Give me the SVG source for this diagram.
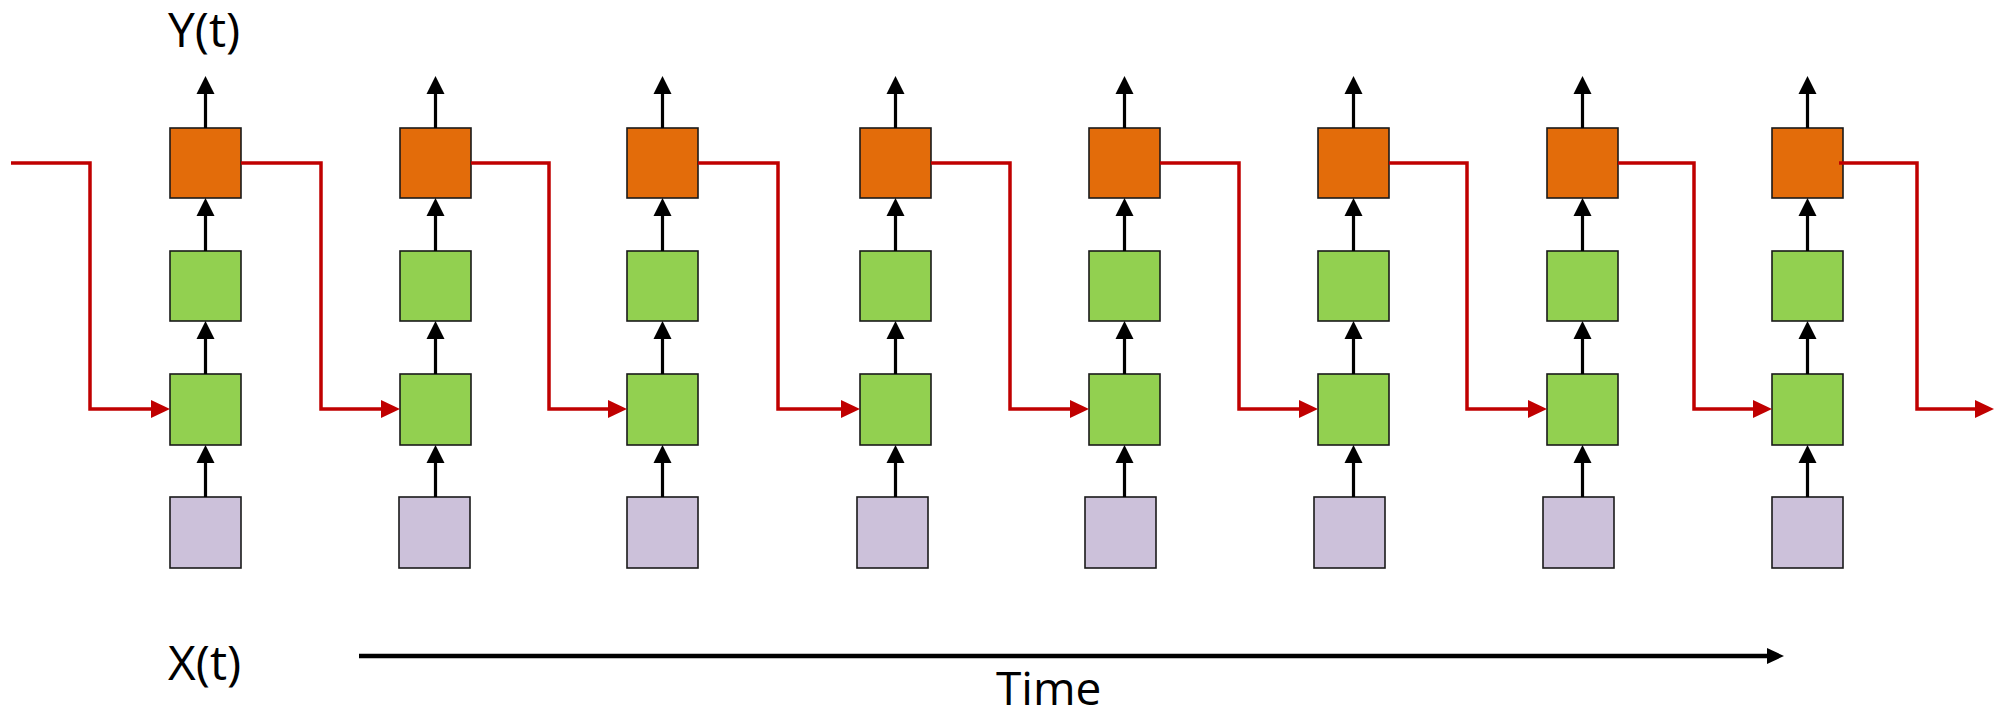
<svg xmlns="http://www.w3.org/2000/svg" width="2005" height="719" viewBox="0 0 2005 719">
<style>
.box{stroke:#1a1a1a;stroke-width:1.6}
.out{fill:#E36C0A}
.hid{fill:#92D050}
.inp{fill:#CCC1DA}
.rec{fill:none;stroke:#C00000;stroke-width:3.5;marker-end:url(#ra)}
.up{fill:none;stroke:#000;stroke-width:3.2;marker-end:url(#ba)}
.lbl{font-family:"Open Sans","Noto Sans",sans-serif;font-size:48px;fill:#000}
</style>
<defs>
<marker id="ra" markerUnits="userSpaceOnUse" markerWidth="19" markerHeight="19" refX="0" refY="9" orient="auto" overflow="visible"><path d="M0,0 L19,9 L0,18 z" fill="#C00000"/></marker>
<marker id="ba" markerUnits="userSpaceOnUse" markerWidth="19" markerHeight="19" refX="0" refY="9" orient="auto" overflow="visible"><path d="M0,0 L18,9 L0,18 z" fill="#000"/></marker>
<marker id="ta" markerUnits="userSpaceOnUse" markerWidth="17" markerHeight="16" refX="0" refY="8" orient="auto" overflow="visible"><path d="M0,0 L17,8 L0,16 z" fill="#000"/></marker>
</defs>
<rect width="2005" height="719" fill="#fff"/>
<g id="col1"><rect class="box out" x="170" y="128" width="71" height="70"/><rect class="box hid" x="170" y="251" width="71" height="70"/><rect class="box hid" x="170" y="374" width="71" height="71"/><rect class="box inp" x="170" y="497" width="71" height="71"/></g>
<g id="col2"><rect class="box out" x="400" y="128" width="71" height="70"/><rect class="box hid" x="400" y="251" width="71" height="70"/><rect class="box hid" x="400" y="374" width="71" height="71"/><rect class="box inp" x="399" y="497" width="71" height="71"/></g>
<g id="col3"><rect class="box out" x="627" y="128" width="71" height="70"/><rect class="box hid" x="627" y="251" width="71" height="70"/><rect class="box hid" x="627" y="374" width="71" height="71"/><rect class="box inp" x="627" y="497" width="71" height="71"/></g>
<g id="col4"><rect class="box out" x="860" y="128" width="71" height="70"/><rect class="box hid" x="860" y="251" width="71" height="70"/><rect class="box hid" x="860" y="374" width="71" height="71"/><rect class="box inp" x="857" y="497" width="71" height="71"/></g>
<g id="col5"><rect class="box out" x="1089" y="128" width="71" height="70"/><rect class="box hid" x="1089" y="251" width="71" height="70"/><rect class="box hid" x="1089" y="374" width="71" height="71"/><rect class="box inp" x="1085" y="497" width="71" height="71"/></g>
<g id="col6"><rect class="box out" x="1318" y="128" width="71" height="70"/><rect class="box hid" x="1318" y="251" width="71" height="70"/><rect class="box hid" x="1318" y="374" width="71" height="71"/><rect class="box inp" x="1314" y="497" width="71" height="71"/></g>
<g id="col7"><rect class="box out" x="1547" y="128" width="71" height="70"/><rect class="box hid" x="1547" y="251" width="71" height="70"/><rect class="box hid" x="1547" y="374" width="71" height="71"/><rect class="box inp" x="1543" y="497" width="71" height="71"/></g>
<g id="col8"><rect class="box out" x="1772" y="128" width="71" height="70"/><rect class="box hid" x="1772" y="251" width="71" height="70"/><rect class="box hid" x="1772" y="374" width="71" height="71"/><rect class="box inp" x="1772" y="497" width="71" height="71"/></g>
<g id="connectors">
<path class="rec" d="M11,163 H90 V409 H151"/>
<path class="rec" d="M241,163 H321 V409 H381"/>
<path class="rec" d="M471,163 H549 V409 H608"/>
<path class="rec" d="M698,163 H778 V409 H841"/>
<path class="rec" d="M931,163 H1010 V409 H1070"/>
<path class="rec" d="M1160,163 H1239 V409 H1299"/>
<path class="rec" d="M1389,163 H1467 V409 H1528"/>
<path class="rec" d="M1618,163 H1694 V409 H1753"/>
<path class="rec" d="M1839,163 H1917 V409 H1975"/>
<path class="up" d="M205.5,497 V463"/><path class="up" d="M205.5,374 V339"/><path class="up" d="M205.5,251 V216"/><path class="up" d="M205.5,128 V94"/>
<path class="up" d="M435.5,497 V463"/><path class="up" d="M435.5,374 V339"/><path class="up" d="M435.5,251 V216"/><path class="up" d="M435.5,128 V94"/>
<path class="up" d="M662.5,497 V463"/><path class="up" d="M662.5,374 V339"/><path class="up" d="M662.5,251 V216"/><path class="up" d="M662.5,128 V94"/>
<path class="up" d="M895.5,497 V463"/><path class="up" d="M895.5,374 V339"/><path class="up" d="M895.5,251 V216"/><path class="up" d="M895.5,128 V94"/>
<path class="up" d="M1124.5,497 V463"/><path class="up" d="M1124.5,374 V339"/><path class="up" d="M1124.5,251 V216"/><path class="up" d="M1124.5,128 V94"/>
<path class="up" d="M1353.5,497 V463"/><path class="up" d="M1353.5,374 V339"/><path class="up" d="M1353.5,251 V216"/><path class="up" d="M1353.5,128 V94"/>
<path class="up" d="M1582.5,497 V463"/><path class="up" d="M1582.5,374 V339"/><path class="up" d="M1582.5,251 V216"/><path class="up" d="M1582.5,128 V94"/>
<path class="up" d="M1807.5,497 V463"/><path class="up" d="M1807.5,374 V339"/><path class="up" d="M1807.5,251 V216"/><path class="up" d="M1807.5,128 V94"/>
<path d="M359,656 H1767" fill="none" stroke="#000" stroke-width="4.5" marker-end="url(#ta)"/>
</g>
<text class="lbl" x="168" y="47">Y(t)</text>
<text class="lbl" x="168" y="680">X(t)</text>
<text class="lbl" x="996" y="705" style="font-size:46px">Time</text>
</svg>
